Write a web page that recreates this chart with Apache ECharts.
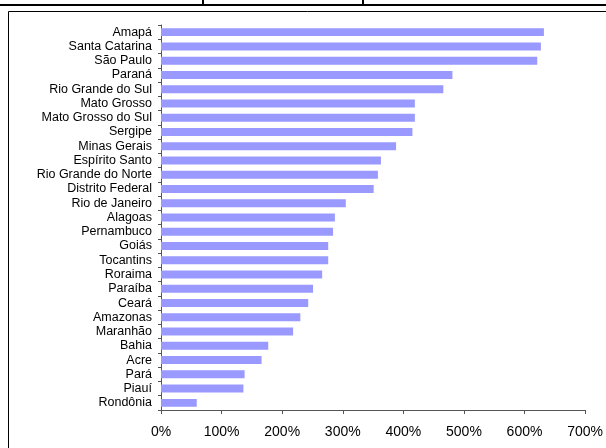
<!DOCTYPE html>
<html>
<head>
<meta charset="utf-8">
<script src="https://cdn.jsdelivr.net/npm/echarts@6/dist/echarts.min.js"></script>
<style>html,body{margin:0;padding:0;background:#fff}#c{width:606px;height:448px}</style>
</head>
<body>
<div id="c"></div>
<script>
var categories = ["Amapá","Santa Catarina","São Paulo","Paraná","Rio Grande do Sul","Mato Grosso","Mato Grosso do Sul","Sergipe","Minas Gerais","Espírito Santo","Rio Grande do Norte","Distrito Federal","Rio de Janeiro","Alagoas","Pernambuco","Goiás","Tocantins","Roraima","Paraíba","Ceará","Amazonas","Maranhão","Bahia","Acre","Pará","Piauí","Rondônia"];
var values = [632,627,621,481,466,419,419,415,388,363,358,351,305,287,284,276,276,266,251,243,230,218,177,166,138,136,59];
var xMin = 0, xMax = 700, xStep = 100;

var chart = echarts.init(document.getElementById('c'), null, {renderer:'canvas'});
chart.setOption({
  animation: false,
  backgroundColor: '#ffffff',
  grid: {left: 161, right: 19, top: 25, bottom: 38, containLabel: false},
  xAxis: {
    type: 'value', min: xMin, max: xMax, interval: xStep,
    axisLine: {show: true, lineStyle: {color: '#555', width: 1}},
    axisTick: {show: true, length: 4, lineStyle: {color: '#555'}},
    splitLine: {show: false},
    axisLabel: {formatter: '{value}%', fontFamily: 'Liberation Sans, Arial', fontSize: 14, color: '#000', margin: 15}
  },
  yAxis: {
    type: 'category', data: categories, inverse: true,
    axisLine: {show: true, lineStyle: {color: '#555', width: 1}},
    axisTick: {show: true, length: 3, interval: 0, lineStyle: {color: '#555'}},
    axisLabel: {interval: 0, fontFamily: 'Liberation Sans, Arial', fontSize: 12.5, color: '#000', margin: 9}
  },
  series: [{
    type: 'bar', data: values, barCategoryGap: '44%',
    itemStyle: {color: '#9999FF'}
  }],
  graphic: [
    {type: 'line', shape: {x1: 0, y1: 5, x2: 606, y2: 5}, style: {stroke: '#000', lineWidth: 2}},
    {type: 'line', shape: {x1: 203, y1: 0, x2: 203, y2: 5}, style: {stroke: '#000', lineWidth: 2}},
    {type: 'line', shape: {x1: 363, y1: 0, x2: 363, y2: 5}, style: {stroke: '#000', lineWidth: 2}},
    {type: 'line', shape: {x1: 8.5, y1: 11.5, x2: 606, y2: 11.5}, style: {stroke: '#000', lineWidth: 1}},
    {type: 'line', shape: {x1: 8.5, y1: 11.5, x2: 8.5, y2: 448}, style: {stroke: '#000', lineWidth: 1}}
  ]
});
</script>
</body>
</html>
